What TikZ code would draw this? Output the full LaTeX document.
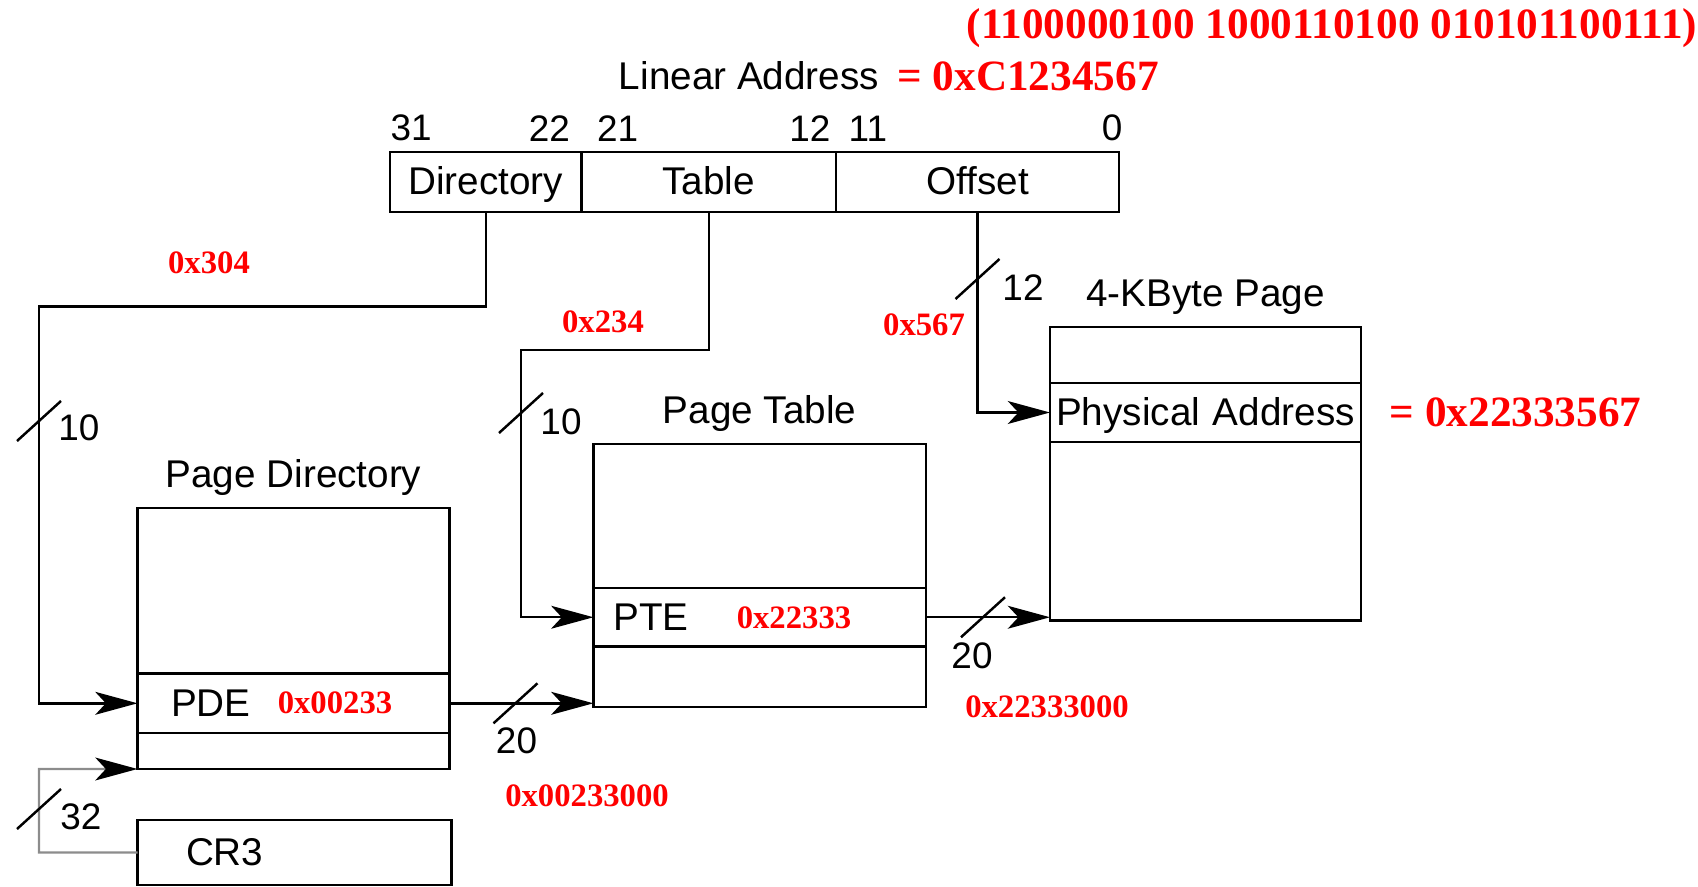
\documentclass[tikz,border=0pt]{standalone}
\usepackage{fontspec}
\setmainfont{Liberation Sans}
\newfontfamily\annfont{Liberation Serif}
\usepackage{tikz}
\usetikzlibrary{arrows.meta,positioning,calc}
\definecolor{annred}{HTML}{FF0000}
\definecolor{lnkgrey}{HTML}{8C8C8C}
\tikzset{
  field/.style={draw,line width=0.7pt,outer sep=0,inner sep=0,minimum height=0.6cm,text height=0.9em,text depth=0.18em},
  row/.style={draw,line width=0.7pt,outer sep=0,inner ysep=0,align=left},
  lbl/.style={inner sep=0},
  num/.style={inner sep=0,font=\fontsize{10.5}{12}\selectfont},
  ann/.style={inner sep=0,text=annred,font=\annfont\bfseries\fontsize{9.3}{11}\selectfont},
  bigann/.style={inner sep=0,text=annred,font=\annfont\bfseries\fontsize{12.3}{14}\selectfont},
  link/.style={line width=0.7pt,-{Stealth[length=12pt,width=6.5pt,inset=3pt,color=black]}},
  buswd/.pic={\draw[line width=0.7pt] (-0.22,-0.2) -- (0.22,0.2);}
}

\begin{document}
\begin{tikzpicture}[font=\fontsize{11}{13}\selectfont]
    \useasboundingbox (0,0) rectangle (16.98,8.86);
    % linear address
    \node[lbl] (linaddr) at (7.49,8.10) {Linear Address};
    \node[bigann,right=0.17cm of linaddr] (laval) {= 0xC1234567};
    \node[bigann] (binval) at (13.32,8.58) {(1100000100 1000110100 010101100111)};
    \node[field,minimum width=1.915cm] (dir) at (4.8575,7.04) {Directory};
    \node[field,minimum width=2.545cm,right=0pt of dir] (tbl) {Table};
    \node[field,minimum width=2.83cm,right=0pt of tbl] (off) {Offset};
    \node[num,above right=0.1cm and 0cm of dir.north west] (b31) {31};
    \node[num,above left=0.1cm and 0.11cm of dir.north east] (b22) {22};
    \node[num,above right=0.1cm and 0.15cm of tbl.north west] (b21) {21};
    \node[num,above left=0.1cm and 0.05cm of tbl.north east] (b12) {12};
    \node[num,above right=0.1cm and 0.12cm of off.north west] (b11) {11};
    \node[num,above left=0.1cm and -0.04cm of off.north east] (b0) {0};
    % page directory
    \node[row,minimum width=3.12cm,minimum height=1.656cm] (pdtop) at (2.935,2.952) {};
    \node[row,minimum height=0.594cm,text width=2.45cm,inner xsep=0.335cm,below=0pt of pdtop] (pde) {PDE};
    \node[row,minimum width=3.12cm,minimum height=0.36cm,below=0pt of pde] (pdbot) {};
    \node[lbl,above=0.12cm of pdtop] (pdtitle) {Page Directory};
    \node[row,minimum height=0.65cm,text width=2.17cm,inner xsep=0.485cm] (cr3) at (2.9455,0.335) {CR3};
    % page table
    \node[row,minimum width=3.326cm,minimum height=1.44cm] (pttop) at (7.597,3.70) {};
    \node[row,minimum height=0.585cm,text width=2.926cm,inner xsep=0.2cm,below=0pt of pttop] (pte) {PTE};
    \node[row,minimum width=3.326cm,minimum height=0.605cm,below=0pt of pte] (ptbot) {};
    \node[lbl,above=0.12cm of pttop] (pttitle) {Page Table};
    % 4-KByte page
    \node[row,minimum width=3.11cm,minimum height=0.56cm] (pgtop) at (12.055,5.31) {};
    \node[row,minimum height=0.59cm,text width=2.99cm,inner xsep=0.06cm,align=center,text height=0.9em,text depth=0.18em,below=0pt of pgtop] (pa) {Physical Address};
    \node[row,minimum width=3.11cm,minimum height=1.785cm,below=0pt of pa] (pgbot) {};
    \node[lbl,above=0.12cm of pgtop] (pgtitle) {4-KByte Page};
    \node[bigann,right=0.28cm of pa] (vphys) {= 0x22333567};
    % links
    \coordinate (dirbend) at (0.39,5.795);
    \coordinate (tblbend) at (5.21,5.36);
    \coordinate (crbend) at (0.39,1.17);
    \draw[link] (dir.south) |- (dirbend) |- (pde.west);
    \draw[link] (tbl.south) |- (tblbend) |- (pte.west);
    \draw[link] (off.south) |- (pa.west);
    \draw[link] (pde.east) -- (pde.east -| ptbot.west);
    \draw[link] (pte.east) -- (pte.east -| pgbot.west);
    \draw[link,draw=lnkgrey] (cr3.west) -| (crbend) -- (pdbot.south west);
    % bus widths
    \pic at (0.39,4.65) {buswd};
    \pic at (5.21,4.73) {buswd};
    \pic at (9.775,6.07) {buswd};
    \pic at (5.155,1.827) {buswd};
    \pic at (9.83,2.6875) {buswd};
    \pic at (0.39,0.77) {buswd};
    \node[num] (wdir) at (0.79,4.58) {10};
    \node[num] (wtbl) at (5.61,4.64) {10};
    \node[num] (woff) at (10.23,5.98) {12};
    \node[num] (wpde) at (5.165,1.45) {20};
    \node[num] (wpte) at (9.72,2.30) {20};
    \node[num] (wcr) at (0.81,0.695) {32};
    % values
    \node[ann] (vdir) at (2.09,6.23) {0x304};
    \node[ann] (vtbl) at (6.03,5.64) {0x234};
    \node[ann] (voff) at (9.24,5.61) {0x567};
    \node[ann] (vpde) at (3.35,1.83) {0x00233};
    \node[ann] (vpdebase) at (5.87,0.90) {0x00233000};
    \node[ann] (vpte) at (7.94,2.68) {0x22333};
    \node[ann] (vptebase) at (10.47,1.79) {0x22333000};
\end{tikzpicture}
\end{document}
